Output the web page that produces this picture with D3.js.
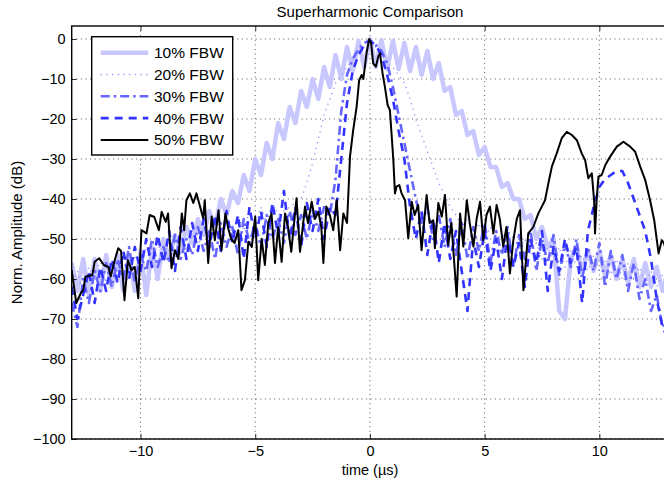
<!DOCTYPE html>
<html>
<head>
<meta charset="utf-8">
<script src="https://cdn.jsdelivr.net/npm/d3@7"></script>
<style>
  body { margin: 0; background: #fff; }
  svg { display: block; font-family: "Liberation Sans", Arial, Helvetica, sans-serif; }
</style>
</head>
<body>
<div class="vis"></div>
<script>
// sample times (us) for the four blue traces
const tGrid = [-13,-12.75,-12.5,-12.25,-12,-11.75,-11.5,-11.25,-11,-10.75,-10.5,-10.25,-10,-9.75,-9.5,-9.25,
  -9,-8.75,-8.5,-8.25,-8,-7.75,-7.5,-7.25,-7,-6.75,-6.5,-6.25,-6,-5.75,-5.5,-5.25,
  -5,-4.75,-4.5,-4.25,-4,-3.75,-3.5,-3.25,-3,-2.75,-2.5,-2.25,-2,-1.75,-1.5,-1.25,
  -1,-0.75,-0.5,-0.25,0,0.25,0.5,0.75,1,1.25,1.5,1.75,2,2.25,2.5,2.75,
  3,3.25,3.5,3.75,4,4.25,4.5,4.75,5,5.25,5.5,5.75,6,6.25,6.5,6.75,
  7,7.25,7.5,7.75,8,8.25,8.5,8.75,9,9.25,9.5,9.75,10,10.25,10.5,10.75,
  11,11.25,11.5,11.75,12,12.25,12.5,12.75,13];

const fbw10 = [-56,-63,-55,-64,-55,-63,-54,-62, -54,-63,-54,-63,-53,-64,-52,-60,
  -50,-55,-49,-53,-47,-51,-45,-49, -43,-47,-40,-44,-38,-41,-34,-38,
  -30,-34,-26,-30,-21,-25,-17,-21, -13,-17,-10,-15,-7,-12,-4,-10,
  -2,-8,-0.5,-7,0,-7,-0.3,-7.5, -0.5,-7.5,-1,-8,-2,-9,-3,-10,
  -6,-13,-12,-19,-18,-24,-23,-29, -27,-32,-32,-37,-36,-40,-40,-45,
  -44,-50,-47,-52,-50,-68,-70,-55, -52,-58,-53,-58,-53,-59,-54,-60,
  -55,-61,-55,-62,-56,-62,-57,-63, -58];

const fbw20 = [-62,-58,-64,-57,-60,-55,-61,-56, -58,-53,-59,-54,-57,-52,-56,-51,
  -55,-50,-54,-49,-53,-48,-52,-47, -51,-46,-50,-45,-49,-44,-48,-43,
  -47,-42,-46,-41,-44,-43,-42,-41, -40,-36,-31,-25,-19,-15,-11,-9,
  -7,-5,-3,-2,-0.5,-2,-4,-6, -7,-9,-11,-15,-20,-24,-28,-32,
  -36,-39,-42,-44,-47,-45,-49,-46, -50,-47,-51,-48,-52,-49,-53,-50,
  -54,-51,-55,-52,-56,-52,-57,-53, -57,-54,-58,-54,-58,-55,-59,-55,
  -60,-56,-60,-57,-61,-58,-62,-59, -63];

const fbw30 = [-66,-72,-60,-66,-58,-63,-56,-62, -55,-60,-52,-61,-54,-58,-50,-57,
  -52,-56,-49,-55,-50,-54,-47,-53, -48,-55,-46,-52,-47,-54,-45,-51,
  -46,-52,-44,-50,-45,-51,-43,-49, -44,-50,-43,-48,-42,-44,-35,-18,
  -9,-5,-2.5,-1,-0.3,-1.5,-3,-6, -12,-19,-26,-33,-40,-46,-42,-50,
  -44,-52,-45,-54,-46,-55,-47,-53, -46,-56,-48,-54,-47,-57,-49,-55,
  -48,-58,-50,-56,-49,-59,-51,-57, -50,-60,-52,-58,-51,-62,-53,-60,
  -54,-63,-56,-65,-60,-68,-64,-72, -70];

const fbw40 = [-62,-70,-64,-58,-66,-57,-63,-55, -61,-53,-60,-52,-58,-50,-57,-49,
  -56,-48,-58,-47,-55,-46,-53,-45, -52,-44,-53,-43,-51,-44,-55,-42,
  -50,-43,-52,-41,-49,-38,-50,-42, -52,-41,-48,-40,-50,-42,-44,-30,
  -16,-8,-4,-1.5,-0.5,-1.5,-4,-9, -15,-23,-30,-42,-50,-43,-54,-45,
  -56,-46,-55,-48,-58,-68,-50,-57, -48,-58,-50,-60,-49,-57,-51,-62,
  -50,-56,-48,-63,-52,-58,-50,-56, -52,-66,-48,-42,-37,-35,-34,-33,
  -33,-36,-40,-44,-48,-55,-65,-72, -75];

// 50% FBW trace, read point by point
const t50 = [-13,-12.8,-12.6,-12.5,-12.4,-12.1,-12,-11.8,-11.6,-11.4,-11.3,-11.2,-11.1,-10.97,-10.85,-10.7,
  -10.55,-10.4,-10.25,-10.1,-9.96,-9.74,-9.6,-9.4,-9.2,-9.08,-8.9,-8.8,-8.65,-8.5,-8.35,-8.2,
  -8.1,-8,-7.85,-7.7,-7.56,-7.4,-7.27,-7.2,-7.05,-6.9,-6.76,-6.6,-6.47,-6.3,-6.18,-6.05,
  -5.9,-5.74,-5.6,-5.45,-5.3,-5.15,-5,-4.87,-4.72,-4.58,-4.43,-4.29,-4.14,-4,-3.85,-3.7,
  -3.57,-3.43,-3.2,-3.05,-2.83,-2.7,-2.54,-2.4,-2.25,-2.12,-2.03,-1.9,-1.75,-1.6,-1.45,-1.3,
  -1.16,-1,-0.94,-0.87,-0.73,-0.58,-0.47,-0.36,-0.29,-0.22,-0.15,-0.03,0.05,0.14,0.26,0.36,
  0.44,0.55,0.65,0.77,0.87,0.94,1.02,1.09,1.16,1.28,1.38,1.53,1.67,1.82,1.95,2.1,
  2.25,2.47,2.6,2.76,2.83,2.98,3.13,3.27,3.41,3.55,3.78,3.93,4.07,4.22,4.35,4.51,
  4.65,4.8,4.94,5.08,5.23,5.38,5.52,5.66,5.81,5.95,6.1,6.25,6.4,6.54,6.69,6.9,
  7.12,7.34,7.49,7.63,7.78,7.93,8.14,8.36,8.58,8.8,9.02,9.23,9.38,9.52,9.67,9.77,
  9.81,9.88,9.96,10.1,10.26,10.47,10.76,11.05,11.34,11.56,11.78,12,12.21,12.39,12.58,12.72,
  12.82,13];
const fbw50 = [-57.8,-66,-63.5,-62.8,-59.4,-59,-55.7,-54.8,-56.5,-57,-59.4,-57,-54.8,-52.3,-53,-65.3,
  -55.3,-57.8,-57,-64.8,-47.8,-48.6,-44,-44.5,-47.8,-43.2,-45.7,-43.6,-57.3,-52.8,-55,-43.6,
  -47.8,-40.3,-38.6,-41,-38.6,-42,-44.8,-40.3,-56,-44.4,-50.3,-42.8,-52.8,-43.6,-47.3,-50,
  -51,-47.8,-62.8,-60.3,-50.7,-52,-44.4,-60.3,-50,-56.5,-46,-43.6,-56,-47,-55.7,-43.6,
  -47,-53.2,-39.8,-53.2,-41.9,-46,-40.7,-45,-43.2,-47,-56,-41.9,-44,-47.8,-40.3,-52.8,
  -43.6,-46,-38.6,-29.4,-22.8,-16.9,-10.3,-9,-10,-6.9,-3.6,0,-1,-6.1,-6.9,-4.4,
  -3.6,-8.6,-11.9,-16.5,-17.8,-23.6,-30.3,-38.6,-36.9,-36.5,-38.6,-40.3,-49.8,-40.7,-44,-41.5,
  -52.8,-39,-46,-45.3,-52.3,-41,-44.4,-39,-51.5,-46,-64.4,-43.6,-51.9,-40.3,-46,-51.9,
  -45,-40.7,-50.3,-44,-41.9,-48.6,-41.5,-45,-51.9,-47,-58.6,-50.3,-45,-42.8,-62.8,-48.6,
  -47,-43.6,-41.9,-40.3,-36,-31.9,-28.6,-24.8,-23.2,-24,-25.3,-28.6,-30.3,-34.8,-33.6,-40.3,
  -48.6,-40.3,-34.4,-34,-31.5,-29.4,-26.9,-25.7,-26.9,-28.2,-31.9,-35.3,-40.3,-45.3,-53.6,-50.3,
  -51.1,-55];

const seriesNames = ["10% FBW", "20% FBW", "30% FBW", "40% FBW", "50% FBW"];
const xTicks = [-10, -5, 0, 5, 10];
const yTicks = [-100, -90, -80, -70, -60, -50, -40, -30, -20, -10, 0];

const styles = [
  { color: "#c8c8ff", width: 4.5, dash: null },
  { color: "#9494ff", width: 1.4, dash: "1.2,4.5" },
  { color: "#6666ff", width: 2.6, dash: "9,4,2.5,4" },
  { color: "#3333ff", width: 2.6, dash: "8,6" },
  { color: "#000000", width: 2, dash: null },
];

const draw = () => {
  const W = 664, H = 487;
  const margin = { top: 26, left: 71.7, bottom: 48 };
  const x0 = margin.left, x1 = 668.2;
  const y0 = margin.top, y1 = H - margin.bottom;

  const svg = d3.select(".vis").append("svg").attr("width", W).attr("height", H);

  const x = d3.scaleLinear().domain([-13, 13]).range([x0, x1]);
  const y = d3.scaleLinear().domain([-100, 3.25]).range([y1, y0]);

  svg.append("defs").append("clipPath").attr("id", "plot")
    .append("rect").attr("x", x0).attr("y", y0).attr("width", x1 - x0).attr("height", y1 - y0);

  // dotted grid
  const grid = svg.append("g").attr("stroke", "#444").attr("stroke-width", 0.9)
    .attr("stroke-dasharray", "1,3.6");
  grid.selectAll(".gx").data(xTicks).enter().append("line")
    .attr("x1", (d) => x(d)).attr("x2", (d) => x(d)).attr("y1", y0).attr("y2", y1);
  grid.selectAll(".gy").data(yTicks).enter().append("line")
    .attr("x1", x0).attr("x2", x1).attr("y1", (d) => y(d)).attr("y2", (d) => y(d));

  const blue = [fbw10, fbw20, fbw30, fbw40];
  const traces = blue.map((vals) => vals.map((v, i) => ({ t: tGrid[i], v: v })));
  traces.push(fbw50.map((v, i) => ({ t: t50[i], v: v })));

  const line = d3.line().x((d) => x(d.t)).y((d) => y(d.v));
  const plot = svg.append("g").attr("clip-path", "url(#plot)");
  traces.forEach((tr, i) => {
    plot.append("path").datum(tr)
      .attr("fill", "none")
      .attr("stroke", styles[i].color)
      .attr("stroke-width", styles[i].width)
      .attr("stroke-linejoin", "round")
      .attr("stroke-dasharray", styles[i].dash)
      .attr("d", line);
  });

  // axes, ticks pointing inward
  const fs = "14.5px";
  const bottom = svg.append("g").attr("transform", "translate(0," + y1 + ")")
    .call(d3.axisBottom(x).tickValues(xTicks).tickSize(-5).tickPadding(7));
  const left = svg.append("g").attr("transform", "translate(" + x0 + ",0)")
    .call(d3.axisLeft(y).tickValues(yTicks).tickSize(-5).tickPadding(6));
  svg.append("g").attr("transform", "translate(0," + y0 + ")")
    .call(d3.axisTop(x).tickValues(xTicks).tickSize(-5).tickFormat(""));
  [bottom, left].forEach((g) => {
    g.selectAll("text").attr("font-size", fs).attr("fill", "#000")
      .attr("font-family", "Liberation Sans, Arial, sans-serif");
  });
  svg.selectAll(".domain").remove();
  svg.selectAll(".tick line").attr("stroke", "#000").attr("stroke-width", 0.8);

  svg.append("rect").attr("x", x0).attr("y", y0).attr("width", x1 - x0).attr("height", y1 - y0)
    .attr("fill", "none").attr("stroke", "#000").attr("stroke-width", 1.4);

  // labels
  svg.append("text").attr("x", 370).attr("y", 17).attr("text-anchor", "middle")
    .attr("font-size", "15px").text("Superharmonic Comparison");
  svg.append("text").attr("x", 370).attr("y", 475).attr("text-anchor", "middle")
    .attr("font-size", "14.5px").text("time (\u00b5s)");
  svg.append("text").attr("transform", "translate(22," + (y0 + y1) / 2 + ") rotate(-90)")
    .attr("text-anchor", "middle").attr("font-size", "15px").text("Norm. Amplitude (dB)");

  // legend
  const lg = svg.append("g");
  lg.append("rect").attr("x", 91.7).attr("y", 36.7).attr("width", 141).attr("height", 118.3)
    .attr("fill", "#fff").attr("stroke", "#000").attr("stroke-width", 1.4);
  seriesNames.forEach((name, i) => {
    const ly = 52.7 + i * 21.8;
    lg.append("line").attr("x1", 100.7).attr("x2", 148.3).attr("y1", ly).attr("y2", ly)
      .attr("stroke", styles[i].color).attr("stroke-width", styles[i].width)
      .attr("stroke-dasharray", styles[i].dash);
    lg.append("text").attr("x", 154).attr("y", ly + 5.5).attr("font-size", "15.5px").text(name);
  });
};

draw();
</script>
</body>
</html>
